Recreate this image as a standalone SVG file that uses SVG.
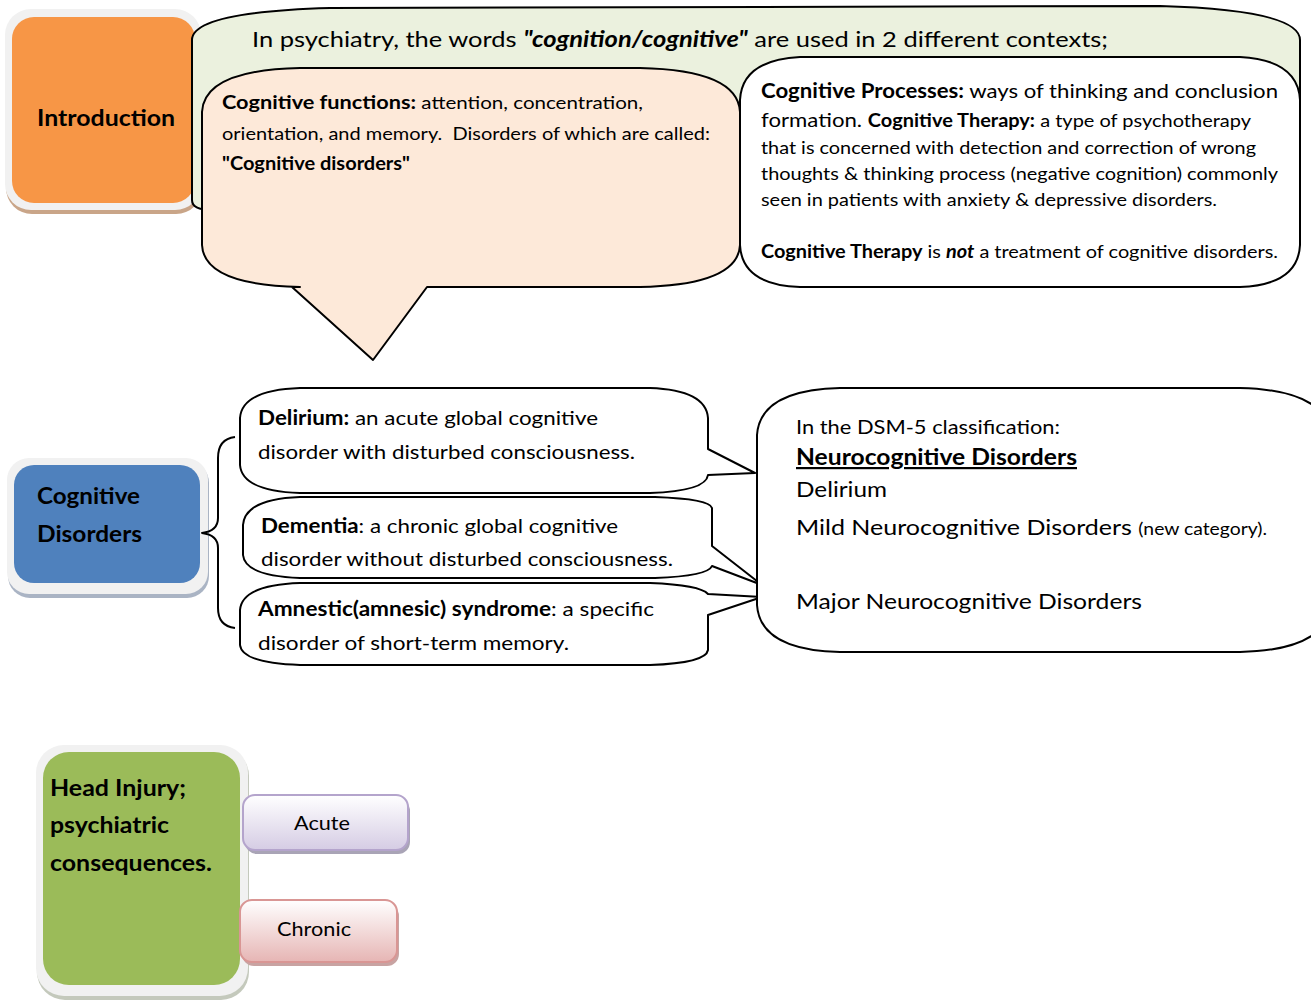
<svg xmlns="http://www.w3.org/2000/svg" width="1311" height="1000" viewBox="0 0 1311 1000">
<defs>
<linearGradient id="gAcute" x1="0" y1="0" x2="0" y2="1"><stop offset="0" stop-color="#ffffff"/><stop offset="1" stop-color="#d5cce4"/></linearGradient>
<linearGradient id="gChronic" x1="0" y1="0" x2="0" y2="1"><stop offset="0" stop-color="#ffffff"/><stop offset="1" stop-color="#e6b5b4"/></linearGradient>
</defs>
<style>
text{font-family:Lato,"Liberation Sans",sans-serif;fill:#000;}
.b{font-weight:bold;}
.bi{font-weight:bold;font-style:italic;}
.ln{stroke:#000;stroke-width:2;fill:none;stroke-linejoin:round;}
.call{stroke:#000;stroke-width:2;stroke-linejoin:round;}
</style>
<rect width="1311" height="1000" fill="#fff"/>

<!-- Introduction -->
<g id="introduction">
<rect x="6" y="12" width="196" height="202" rx="26" fill="#c9a588"/>
<rect x="5" y="9" width="196" height="201" rx="26" fill="#f1f1f1"/>
<rect x="12" y="17" width="183" height="186" rx="22" fill="#f79646"/>
<text x="37" y="126" font-size="22" class="b" textLength="138" lengthAdjust="spacingAndGlyphs">Introduction</text>
</g>

<!-- Top green callout -->
<g id="context-callout">
<path class="call" fill="#ebf1de" d="M192,200 L192,40 Q192,12 330,8 L1160,6 Q1300,10 1300,40 L1300,200 Q1300,210 1280,210 L212,210 Q192,210 192,200 Z"/>
<text x="252" y="47" font-size="22" textLength="856" lengthAdjust="spacingAndGlyphs">In psychiatry, the words <tspan class="bi">"cognition/cognitive"</tspan> are used in 2 different contexts;</text>
</g>

<!-- Cognitive functions callout -->
<g id="cognitive-functions">
<path class="call" fill="#fde9d9" d="M202,112 Q204,70 300,68 L640,68 Q738,70 740,112 L740,245 Q738,285 640,287 L427,287 L373,360 L292,287 L300,287 Q204,285 202,245 Z"/>
<text x="222" y="109" font-size="18" textLength="421" lengthAdjust="spacingAndGlyphs"><tspan class="b" font-size="19">Cognitive functions:</tspan> attention, concentration,</text>
<text x="222" y="140" font-size="18" textLength="488" lengthAdjust="spacingAndGlyphs" xml:space="preserve">orientation, and memory.  Disorders of which are called:</text>
<text x="222" y="170" font-size="18" class="b" textLength="188" lengthAdjust="spacingAndGlyphs">"Cognitive disorders"</text>
</g>

<!-- Cognitive processes callout -->
<g id="cognitive-processes">
<path class="call" fill="#ffffff" d="M740,100 Q742,60 800,57 L1240,57 Q1298,60 1300,100 L1300,245 Q1298,285 1240,287 L800,287 Q742,285 740,245 Z"/>
<text x="761" y="98" font-size="20" textLength="517" lengthAdjust="spacingAndGlyphs"><tspan class="b">Cognitive Processes:</tspan> ways of thinking and conclusion</text>
<text x="761" y="127" font-size="20" textLength="490" lengthAdjust="spacingAndGlyphs">formation. <tspan class="b" font-size="18">Cognitive Therapy:</tspan><tspan font-size="18"> a type of psychotherapy</tspan></text>
<text x="761" y="154" font-size="18" textLength="495" lengthAdjust="spacingAndGlyphs">that is concerned with detection and correction of wrong</text>
<text x="761" y="180" font-size="18" textLength="517" lengthAdjust="spacingAndGlyphs">thoughts &amp; thinking process (negative cognition) commonly</text>
<text x="761" y="206" font-size="18" textLength="456" lengthAdjust="spacingAndGlyphs">seen in patients with anxiety &amp; depressive disorders.</text>
<text x="761" y="258" font-size="18" textLength="517" lengthAdjust="spacingAndGlyphs"><tspan class="b">Cognitive Therapy</tspan> is <tspan class="bi">not</tspan> a treatment of cognitive disorders.</text>
</g>

<!-- Cognitive Disorders -->
<g id="cognitive-disorders">
<rect x="8" y="461" width="201" height="137" rx="22" fill="#aab4c4"/>
<rect x="7" y="458" width="201" height="136" rx="22" fill="#f1f1f1"/>
<rect x="14" y="465" width="186" height="118" rx="20" fill="#4f81bd"/>
<text x="37" y="504" font-size="22" class="b" textLength="103" lengthAdjust="spacingAndGlyphs">Cognitive</text>
<text x="37" y="542" font-size="22" class="b" textLength="105" lengthAdjust="spacingAndGlyphs">Disorders</text>
</g>

<!-- connectors -->
<g id="connectors">
<path class="ln" d="M235,437 Q218,439 218,458 L218,518 Q218,531 202,533 Q218,535 218,548 L218,608 Q218,626 235,628"/>
</g>

<!-- Delirium -->
<g id="delirium">
<path class="call" fill="#fff" d="M240,418 Q242,390 300,388 L650,388 Q706,390 708,418 L708,449 L755,473 L708,475 Q706,491 650,493 L300,493 Q242,491 240,465 Z"/>
<text x="258" y="425" font-size="20" textLength="340" lengthAdjust="spacingAndGlyphs"><tspan class="b">Delirium:</tspan> an acute global cognitive</text>
<text x="258" y="459" font-size="20" textLength="377" lengthAdjust="spacingAndGlyphs">disorder with disturbed consciousness.</text>
</g>

<!-- Dementia -->
<g id="dementia">
<path class="call" fill="#fff" d="M243,525 Q245,499 300,497 L655,497 Q710,499 712,508 L712,546 L762,585 L712,566 Q708,576 655,578 L300,578 Q245,576 243,555 Z"/>
<text x="261" y="533" font-size="20" textLength="357" lengthAdjust="spacingAndGlyphs"><tspan class="b">Dementia</tspan>: a chronic global cognitive</text>
<text x="261" y="566" font-size="20" textLength="412" lengthAdjust="spacingAndGlyphs">disorder without disturbed consciousness.</text>
</g>

<!-- Amnestic -->
<g id="amnestic">
<path class="call" fill="#fff" d="M240,610 Q242,585 300,583 L650,583 Q700,585 708,594 L762,597 L708,615 L708,650 Q706,663 650,665 L300,665 Q242,663 240,645 Z"/>
<text x="258" y="616" font-size="20" textLength="396" lengthAdjust="spacingAndGlyphs"><tspan class="b">Amnestic(amnesic) syndrome</tspan>: a specific</text>
<text x="258" y="650" font-size="20" textLength="311" lengthAdjust="spacingAndGlyphs">disorder of short-term memory.</text>
</g>

<!-- DSM-5 -->
<g id="dsm5">
<path class="call" fill="#fff" d="M757,435 Q760,390 840,388 L1240,388 Q1330,390 1332,440 L1332,600 Q1330,650 1240,652 L840,652 Q760,650 757,605 Z"/>
<text x="796" y="434" font-size="20" textLength="264" lengthAdjust="spacingAndGlyphs">In the DSM-5 classification:</text>
<text x="796" y="465" font-size="22" class="b" text-decoration="underline" textLength="281" lengthAdjust="spacingAndGlyphs">Neurocognitive Disorders</text>
<text x="796" y="497" font-size="22" textLength="91" lengthAdjust="spacingAndGlyphs">Delirium</text>
<text x="796" y="535" font-size="22" textLength="471" lengthAdjust="spacingAndGlyphs">Mild Neurocognitive Disorders <tspan font-size="17">(new category).</tspan></text>
<text x="796" y="609" font-size="22" textLength="346" lengthAdjust="spacingAndGlyphs">Major Neurocognitive Disorders</text>
</g>

<!-- Head Injury -->
<g id="head-injury">
<rect x="37" y="748" width="212" height="252" rx="28" fill="#c4c9bc"/>
<rect x="36" y="745" width="212" height="251" rx="28" fill="#f1f1f1"/>
<rect x="43" y="752" width="197" height="233" rx="26" fill="#9bbb59"/>
<text x="50" y="796" font-size="22" class="b" textLength="136" lengthAdjust="spacingAndGlyphs">Head Injury;</text>
<text x="50" y="833" font-size="22" class="b" textLength="119" lengthAdjust="spacingAndGlyphs">psychiatric</text>
<text x="50" y="871" font-size="22" class="b" textLength="162" lengthAdjust="spacingAndGlyphs">consequences.</text>
</g>

<g id="acute">
<rect x="245" y="799" width="165" height="55" rx="12" fill="#a9a4b6"/>
<rect x="243" y="795" width="165" height="55" rx="12" fill="url(#gAcute)" stroke="#b4a4cc" stroke-width="2"/>
<text x="294" y="830" font-size="20" textLength="56" lengthAdjust="spacingAndGlyphs">Acute</text>
</g>

<g id="chronic">
<rect x="242" y="904" width="157" height="62" rx="12" fill="#c8a3a2"/>
<rect x="240" y="900" width="157" height="62" rx="12" fill="url(#gChronic)" stroke="#d99694" stroke-width="2"/>
<text x="277" y="936" font-size="20" textLength="74" lengthAdjust="spacingAndGlyphs">Chronic</text>
</g>
</svg>
